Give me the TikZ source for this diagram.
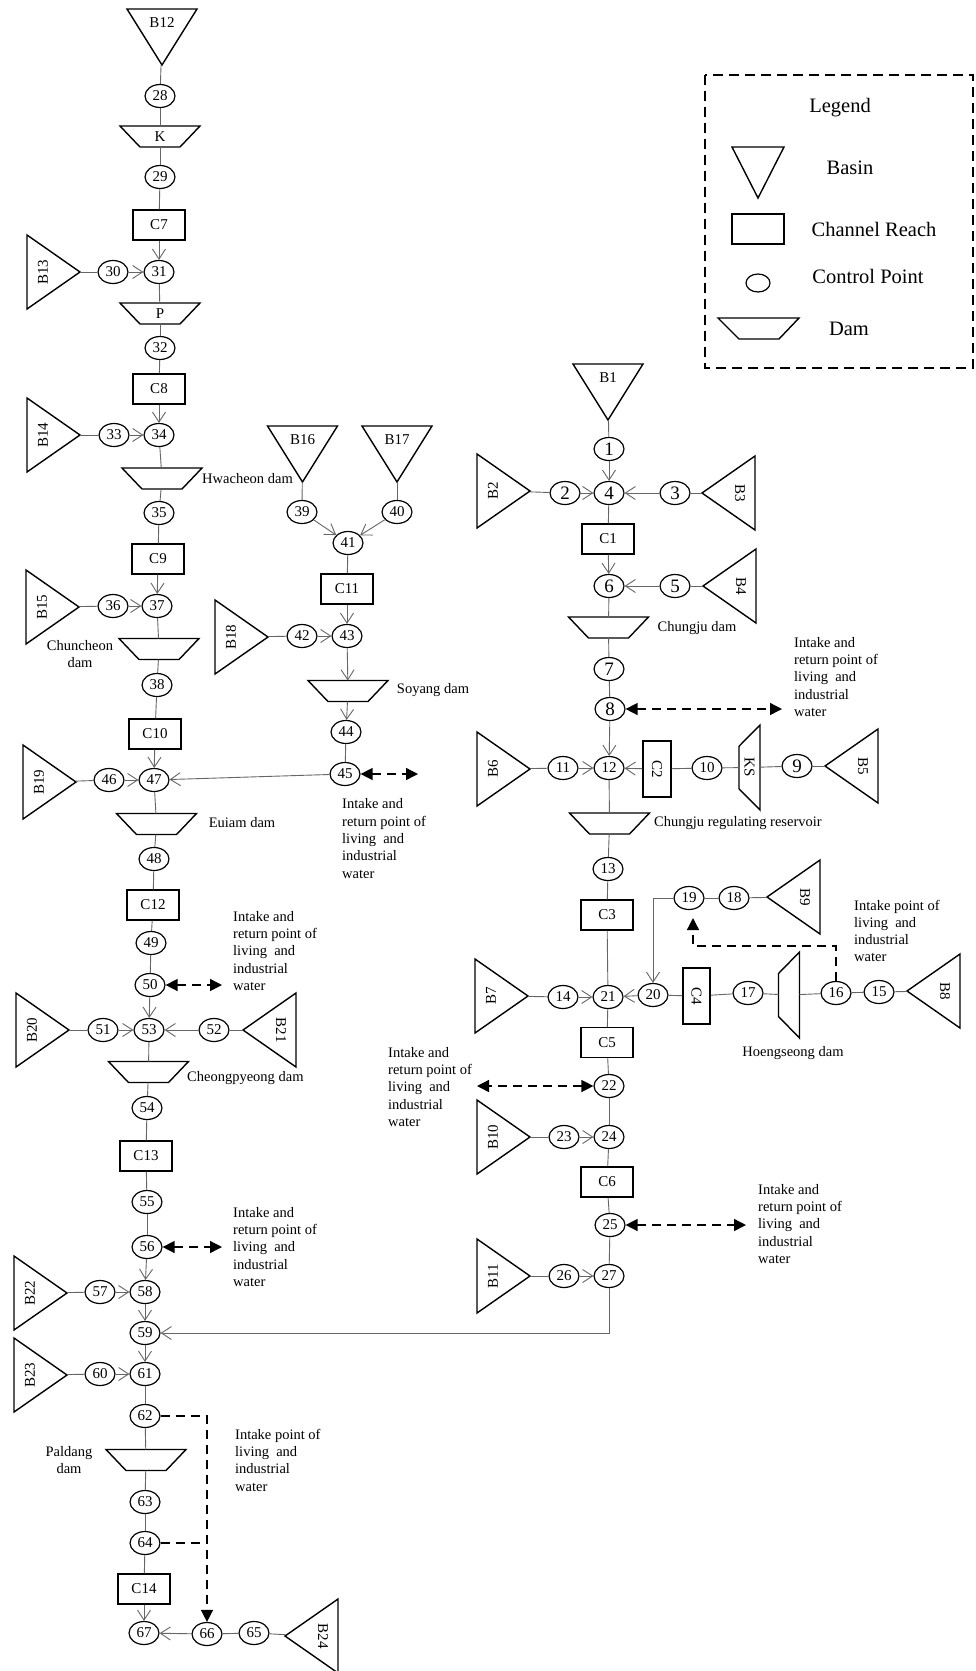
\documentclass[tikz,border=0pt]{standalone}
\usepackage{fontspec}
\setmainfont{Liberation Serif}
\usetikzlibrary{shapes.geometric,arrows.meta,calc}
\newcommand{\fnum}{\fontsize{15}{18}\selectfont}
\newcommand{\fbig}{\fontsize{19}{22}\selectfont}
\newcommand{\flab}{\fontsize{14.5}{17.3}\selectfont}
\newcommand{\fleg}{\fontsize{20.5}{24}\selectfont}
% basin pointing down: name, cx, cy, label
\newcommand{\basinDn}[4]{%
  \node[hold, minimum width=70pt, minimum height=56pt] (#1) at (#2,#3) {};
  \draw[shp] (#1.north west) -- (#1.north east) -- (#1.south) -- cycle;
  \node[btxt] (#1-l) at ([yshift=-14pt]#1.north) {#4};}
% basin on the left, apex right
\newcommand{\basinLf}[4]{%
  \node[hold, minimum width=53pt, minimum height=74pt] (#1) at (#2,#3) {};
  \draw[shp] (#1.north west) -- (#1.east) -- (#1.south west) -- cycle;
  \node[btxt, rotate=90] (#1-l) at ([xshift=16pt]#1.west) {#4};}
% basin on the right, apex left
\newcommand{\basinRt}[4]{%
  \node[hold, minimum width=53pt, minimum height=74pt] (#1) at (#2,#3) {};
  \draw[shp] (#1.north east) -- (#1.west) -- (#1.south east) -- cycle;
  \node[btxt, rotate=-90] (#1-l) at ([xshift=-15pt]#1.east) {#4};}
% dam: name, cx, cy, rotation, top width, text
\newcommand{\damShape}[6]{%
  \node[hold, minimum width=#5pt, minimum height=21pt, rotate=#4, font=\fnum] (#1) at (#2,#3) {#6};
  \draw[shp] (#1.north west) -- (#1.north east) -- ($(#1.south east)!0.25!(#1.south west)$) -- ($(#1.south west)!0.25!(#1.south east)$) -- cycle;}
\begin{document}
\begin{tikzpicture}[x=1pt,y=-1pt,
  ln/.style={draw=black!60, line width=0.9pt},
  ar/.style={ln, -{Straight Barb[length=10pt,width=13pt]}},
  dsh/.style={draw=black, line width=1.4pt, dash pattern=on 9pt off 6pt},
  dar/.style={dsh, {Triangle[length=12pt,width=12pt]}-{Triangle[length=12pt,width=12pt]}},
  dar1/.style={dsh, -{Triangle[length=12pt,width=12pt]}},
  shp/.style={draw=black, line width=1.4pt},
  hold/.style={rectangle, draw=none, inner sep=0pt, outer sep=0pt},
  cp/.style={ellipse, draw=black, line width=1.2pt, minimum width=30pt, minimum height=23pt, inner sep=0pt, font=\fnum},
  cpb/.style={cp, font=\fbig},
  chan/.style={rectangle, draw=black, line width=1.4pt, minimum width=52pt, minimum height=30pt, inner sep=0pt, font=\fnum},
  btxt/.style={font=\fnum, inner sep=0pt},
  lab/.style={font=\flab, align=left, inner sep=0pt},
  leg/.style={font=\fleg, inner sep=0pt}
]
\useasboundingbox[fill=white] (0,0) rectangle (975,1671);

% ---------------- Legend ----------------
\draw[draw=black, line width=1.2pt, dash pattern=on 10pt off 6pt] (705,75) rectangle (973,368);
\node[leg] (lg) at (840,108) {Legend};
\draw[shp] (732,147) -- (784,147) -- (758,198) -- cycle;
\node[leg] (lgb) at (850,168) {Basin};
\draw[shp] (732,214) rectangle (784,244);
\node[leg] (lgc) at (874,229) {Channel Reach};
\draw[shp, line width=1.2pt] (758,283) ellipse [x radius=12pt, y radius=9pt];
\node[leg] (lgp) at (868,276) {Control Point};
\draw[shp] (718,318) -- (799,318) -- (779,339) -- (739,339) -- cycle;
\node[leg] (lgd) at (849,329) {Dam};

% ---------------- Basins ----------------
\basinDn{B12}{162}{37}{B12}
\basinDn{B16}{302.5}{454}{B16}
\basinDn{B17}{397}{454}{B17}
\basinDn{B1}{608}{392}{B1}
\basinLf{B13}{53.5}{272}{B13}
\basinLf{B14}{53.5}{435}{B14}
\basinLf{B15}{52.5}{607}{B15}
\basinLf{B19}{49.5}{782}{B19}
\basinLf{B20}{42.5}{1030}{B20}
\basinLf{B22}{40.5}{1293}{B22}
\basinLf{B23}{40.5}{1375}{B23}
\basinLf{B18}{241.5}{637}{B18}
\basinLf{B2}{503.5}{491}{B2}
\basinLf{B6}{503.5}{769}{B6}
\basinLf{B7}{501.5}{996}{B7}
\basinLf{B10}{503.5}{1137}{B10}
\basinLf{B11}{503.5}{1276}{B11}
\basinRt{B3}{728.5}{493}{B3}
\basinRt{B4}{729.5}{586}{B4}
\basinRt{B5}{851.5}{766}{B5}
\basinRt{B9}{793.5}{897}{B9}
\basinRt{B8}{933.5}{991}{B8}
\basinRt{B21}{269.5}{1030}{B21}
\basinRt{B24}{311.5}{1636}{B24}

% ---------------- Dams ----------------
\damShape{dK}{160}{136.5}{0}{80}{K}
\damShape{dP}{160}{313.5}{0}{80}{P}
\damShape{dHw}{162}{478.5}{0}{80}{}
\damShape{dCh}{159}{649}{0}{80}{}
\damShape{dSo}{348}{691}{0}{80}{}
\damShape{dEu}{156.5}{824}{0}{80}{}
\damShape{dCp}{148.5}{1072}{0}{80}{}
\damShape{dPa}{146}{1460}{0}{80}{}
\damShape{dCj}{608.5}{627.5}{0}{80}{}
\damShape{dCr}{609.5}{823.5}{0}{80}{}
\damShape{dKS}{749.5}{767.5}{-90}{85}{KS}
\damShape{dHo}{789}{995}{-90}{86}{}

% ---------------- Channel reaches ----------------
\node[chan] (C7) at (159,225) {C7};
\node[chan] (C8) at (159,389) {C8};
\node[chan] (C9) at (158,559) {C9};
\node[chan] (C10) at (155,734) {C10};
\node[chan] (C11) at (347,589) {C11};
\node[chan] (C12) at (153,905) {C12};
\node[chan] (C13) at (146,1156) {C13};
\node[chan] (C14) at (144,1589) {C14};
\node[chan] (C1) at (608,539) {C1};
\node[chan] (C3) at (607,915) {C3};
\node[chan] (C5) at (607,1042.5) {C5};
\node[chan] (C6) at (607,1182) {C6};
\node[chan, rotate=-90, minimum width=56pt, minimum height=28pt] (C2) at (657,769) {C2};
\node[chan, rotate=-90, minimum width=56pt, minimum height=27pt] (C4) at (696.5,996) {C4};

% ---------------- Control points ----------------
\node[cp] (n28) at (160,96) {28};
\node[cp] (n29) at (160,177) {29};
\node[cp] (n31) at (159,272) {31};
\node[cp] (n30) at (113,272) {30};
\node[cp] (n32) at (160,348) {32};
\node[cp] (n34) at (159,435) {34};
\node[cp] (n33) at (114,435) {33};
\node[cp] (n35) at (159,513) {35};
\node[cp] (n37) at (157,606) {37};
\node[cp] (n36) at (113,606) {36};
\node[cp] (n38) at (157,685) {38};
\node[cp] (n47) at (154,780) {47};
\node[cp] (n46) at (109,780) {46};
\node[cp] (n48) at (154,859) {48};
\node[cp] (n49) at (151,943) {49};
\node[cp] (n50) at (150,985) {50};
\node[cp] (n53) at (149,1030) {53};
\node[cp] (n51) at (103,1030) {51};
\node[cp] (n52) at (214,1030) {52};
\node[cp] (n54) at (147,1108) {54};
\node[cp] (n55) at (147,1202) {55};
\node[cp] (n56) at (147,1247) {56};
\node[cp] (n58) at (145,1292) {58};
\node[cp] (n57) at (100,1292) {57};
\node[cp] (n59) at (145,1333) {59};
\node[cp] (n61) at (145,1374) {61};
\node[cp] (n60) at (100,1374) {60};
\node[cp] (n62) at (145,1416) {62};
\node[cp] (n63) at (145,1502) {63};
\node[cp] (n64) at (145,1543) {64};
\node[cp] (n67) at (144,1633) {67};
\node[cp] (n66) at (207,1634) {66};
\node[cp] (n65) at (254,1633) {65};
\node[cp] (n39) at (302,512) {39};
\node[cp] (n40) at (397,512) {40};
\node[cp] (n41) at (348,543) {41};
\node[cp] (n43) at (347,636) {43};
\node[cp] (n42) at (302,636) {42};
\node[cp] (n44) at (346,732) {44};
\node[cp] (n45) at (345,774) {45};
\node[cpb] (n1) at (609,449) {1};
\node[cpb] (n4) at (609,493) {4};
\node[cpb] (n2) at (565,493) {2};
\node[cpb] (n3) at (675,493) {3};
\node[cpb] (n6) at (609,586) {6};
\node[cpb] (n5) at (675,586) {5};
\node[cpb] (n7) at (609,669) {7};
\node[cpb] (n8) at (610,709) {8};
\node[cp] (n12) at (609,768) {12};
\node[cp] (n11) at (563,768) {11};
\node[cp] (n10) at (707,768) {10};
\node[cpb] (n9) at (797,766) {9};
\node[cp] (n13) at (608,869) {13};
\node[cp] (n19) at (689,898) {19};
\node[cp] (n18) at (734,898) {18};
\node[cp] (n21) at (608,997) {21};
\node[cp] (n14) at (563,997) {14};
\node[cp] (n20) at (653,995) {20};
\node[cp] (n17) at (748,993) {17};
\node[cp] (n16) at (836,993) {16};
\node[cp] (n15) at (879,992) {15};
\node[cp] (n22) at (609,1086) {22};
\node[cp] (n24) at (609,1137) {24};
\node[cp] (n23) at (564,1137) {23};
\node[cp] (n25) at (610,1225) {25};
\node[cp] (n27) at (609,1276) {27};
\node[cp] (n26) at (564,1276) {26};

% ---------------- Plain connectors ----------------
\foreach \a/\b in {B12/n28, n28/dK, dK/n29, n29/C7, B13/n30, n31/dP, dP/n32, n32/C8,
  B14/n33, n34/dHw, dHw/n35, n35/C9, B15/n36, n37/dCh, dCh/n38, n38/C10, B19/n46,
  n47/dEu, dEu/n48, n48/C12, C12/n49, n49/n50, B20/n51, B21/n52, n53/dCp, dCp/n54,
  n54/C13, C13/n55, n55/n56, B22/n57, B23/n60, n61/n62, n62/dPa, dPa/n63, n63/n64,
  n64/C14, n65/n66, B24/n65,
  B16/n39, B17/n40, n41/C11, B18/n42, n44/n45,
  B1/n1, B2/n2, B3/n3, n4/C1, B4/n5, n6/dCj, dCj/n7, n7/n8, B6/n11, n10/C2, dKS/n10,
  n9/dKS, B5/n9, n12/dCr, dCr/n13, n13/C3, C3/n21, B9/n18, n18/n19, B7/n14, C4/n20,
  n17/C4, dHo/n17, n16/dHo, n15/n16, B8/n15, n21/C5, C5/n22, n22/n24, B10/n23,
  n24/C6, C6/n25, n25/n27, B11/n26}
  \draw[ln] (\a) -- (\b);

% ---------------- Arrow connectors ----------------
\foreach \a/\b in {C7/n31, n30/n31, C8/n34, n33/n34, C9/n37, n36/n37, C10/n47, n46/n47,
  n45/n47, n50/n53, n51/n53, n52/n53, n56/n58, n57/n58, n58/n59, n59/n61, n60/n61,
  C14/n67, n66/n67, n39/n41, n40/n41, C11/n43, n42/n43, n43/dSo, dSo/n44,
  n1/n4, n2/n4, n3/n4, C1/n6, n5/n6, n8/n12, n11/n12, C2/n12, n20/n21, n14/n21,
  n23/n24, n26/n27}
  \draw[ar] (\a) -- (\b);
\draw[ar] (n27) |- (n59);
\draw[ar] (n19) -| (n20);

% ---------------- Water intake / return ----------------
\coordinate (e45) at (418,774);
\coordinate (e8) at (782,709);
\coordinate (e22) at (477,1086);
\coordinate (e25) at (746,1225);
\coordinate (e50) at (222,985);
\coordinate (e56) at (222,1247);
\coordinate (k16) at (693,946);
\coordinate (k19) at (693,918);
\draw[dar] (n45) -- (e45);
\draw[dar] (n8) -- (e8);
\draw[dar] (n22) -- (e22);
\draw[dar] (n25) -- (e25);
\draw[dar] (n50) -- (e50);
\draw[dar] (n56) -- (e56);
\draw[dar1] (n16) |- (k16) -- (k19);
\draw[dar1] (n62) -| (n66);
\draw[dsh] (n64) -- (n64 -| n66);

% ---------------- Labels ----------------
\node[lab, anchor=west] (tHw) at (202,479) {Hwacheon dam};
\node[lab, align=center] (tCh) at (80,654) {Chuncheon\\dam};
\node[lab] (tSo) at (433,690) {Soyang dam};
\node[lab] (tEu) at (242,823) {Euiam dam};
\node[lab, anchor=west] (tCp) at (187,1078) {Cheongpyeong dam};
\node[lab, align=center] (tPa) at (69,1460) {Paldang\\dam};
\node[lab] (tCj) at (697,628) {Chungju dam};
\node[lab, anchor=west] (tCr) at (654,823) {Chungju regulating reservoir};
\node[lab] (tHo) at (793,1053) {Hoengseong dam};
\node[lab, anchor=west] (i45) at (342,838.5) {Intake and\\return point of\\living~ and\\industrial\\water};
\node[lab, anchor=west] (i8) at (794,677) {Intake and\\return point of\\living~ and\\industrial\\water};
\node[lab, anchor=west] (i22) at (388,1087) {Intake and\\return point of\\living~ and\\industrial\\water};
\node[lab, anchor=west] (i25) at (758,1224) {Intake and\\return point of\\living~ and\\industrial\\water};
\node[lab, anchor=west] (i50) at (233,951) {Intake and\\return point of\\living~ and\\industrial\\water};
\node[lab, anchor=west] (i56) at (233,1247) {Intake and\\return point of\\living~ and\\industrial\\water};
\node[lab, anchor=west] (i16) at (854,931) {Intake point of\\living~ and\\industrial\\water};
\node[lab, anchor=west] (i62) at (235,1460) {Intake point of\\living~ and\\industrial\\water};
\end{tikzpicture}
\end{document}
